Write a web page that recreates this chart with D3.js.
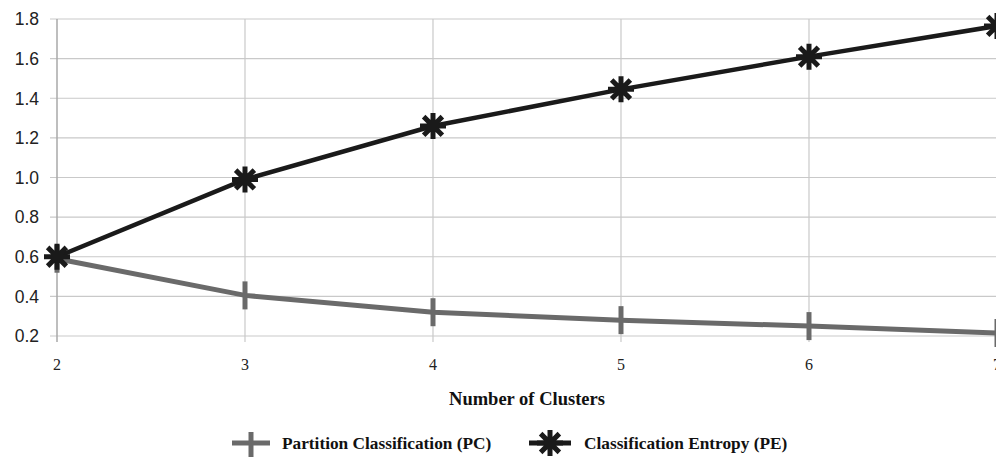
<!DOCTYPE html>
<html><head><meta charset="utf-8">
<script src="https://cdn.jsdelivr.net/npm/d3@7"></script>
<style>body{margin:0;background:#fff;}svg{display:block;}</style>
</head><body>
<svg id="c" width="996" height="457"></svg>
<script>
const clusters = [2, 3, 4, 5, 6, 7];
const pcValues = [0.59, 0.405, 0.32, 0.28, 0.25, 0.215];
const peValues = [0.60, 0.99, 1.26, 1.445, 1.61, 1.765];
const yTicks = [0.2, 0.4, 0.6, 0.8, 1.0, 1.2, 1.4, 1.6, 1.8];
const seriesNames = ["Partition Classification (PC)", "Classification Entropy (PE)"];

const svg = d3.select("#c");
const x = d3.scaleLinear().domain([2, 7]).range([57, 997]);
const y = d3.scaleLinear().domain([0.2, 1.8]).range([336, 19]);

svg.append("g").selectAll("line").data(yTicks).join("line")
  .attr("x1", 50).attr("x2", 997).attr("y1", d => y(d)).attr("y2", d => y(d))
  .attr("stroke", "#c9c9c9").attr("stroke-width", 1.2);
svg.append("g").selectAll("line").data(clusters.slice(1)).join("line")
  .attr("x1", d => x(d)).attr("x2", d => x(d)).attr("y1", 19).attr("y2", 342)
  .attr("stroke", "#c9c9c9").attr("stroke-width", 1.2);
svg.append("line").attr("x1", 57).attr("x2", 57).attr("y1", 19).attr("y2", 342)
  .attr("stroke", "#a8a8a8").attr("stroke-width", 1.5);

svg.append("g").selectAll("text").data(yTicks).join("text")
  .attr("x", 39).attr("y", d => y(d)).attr("dy", "0.36em")
  .attr("text-anchor", "end").attr("font-family", "Liberation Sans, Arial, sans-serif")
  .attr("font-size", 17.5).attr("fill", "#222").text(d => d.toFixed(1));
svg.append("g").selectAll("text").data(clusters).join("text")
  .attr("x", d => x(d)).attr("y", 370)
  .attr("text-anchor", "middle").attr("font-family", "Liberation Serif, Times New Roman, serif")
  .attr("font-size", 16).attr("fill", "#222").text(d => d);
svg.append("text").attr("x", 527).attr("y", 405).attr("text-anchor", "middle")
  .attr("font-family", "Liberation Serif, Times New Roman, serif").attr("font-weight", "bold")
  .attr("font-size", 18.5).attr("fill", "#111").text("Number of Clusters");

const line = d3.line().x((d, i) => x(clusters[i])).y(d => y(d));

const pcColor = "#6a6a6a", peColor = "#1a1a1a";
svg.append("path").datum(pcValues).attr("d", line).attr("fill", "none")
  .attr("stroke", pcColor).attr("stroke-width", 5);
svg.append("path").datum(peValues).attr("d", line).attr("fill", "none")
  .attr("stroke", peColor).attr("stroke-width", 4.5);

function pcMarker(g, cx, cy) {
  g.append("line").attr("x1", cx).attr("x2", cx).attr("y1", cy - 14).attr("y2", cy + 14)
    .attr("stroke", pcColor).attr("stroke-width", 5);
}
function peMarker(g, cx, cy) {
  const r = 13, d = r * 0.72;
  const p = `M${cx},${cy - r}L${cx},${cy + r}M${cx - r},${cy}L${cx + r},${cy}` +
    `M${cx - d},${cy - d}L${cx + d},${cy + d}M${cx - d},${cy + d}L${cx + d},${cy - d}`;
  g.append("path").attr("d", p).attr("stroke", peColor).attr("stroke-width", 5).attr("fill", "none");
}
const mk = svg.append("g");
pcValues.forEach((v, i) => pcMarker(mk, x(clusters[i]), y(v)));
peValues.forEach((v, i) => peMarker(mk, x(clusters[i]), y(v)));

const lg = svg.append("g");
lg.append("line").attr("x1", 232).attr("x2", 270).attr("y1", 443).attr("y2", 443)
  .attr("stroke", pcColor).attr("stroke-width", 5);
pcMarker(lg, 251, 446);
lg.append("text").attr("x", 282).attr("y", 449).attr("font-family", "Liberation Serif, Times New Roman, serif")
  .attr("font-weight", "bold").attr("font-size", 17.3).attr("fill", "#111").text(seriesNames[0]);
lg.append("line").attr("x1", 529).attr("x2", 571).attr("y1", 443).attr("y2", 443)
  .attr("stroke", peColor).attr("stroke-width", 5);
peMarker(lg, 550, 443);
lg.append("text").attr("x", 584).attr("y", 449).attr("font-family", "Liberation Serif, Times New Roman, serif")
  .attr("font-weight", "bold").attr("font-size", 17.3).attr("fill", "#111").text(seriesNames[1]);
</script>
</body></html>
